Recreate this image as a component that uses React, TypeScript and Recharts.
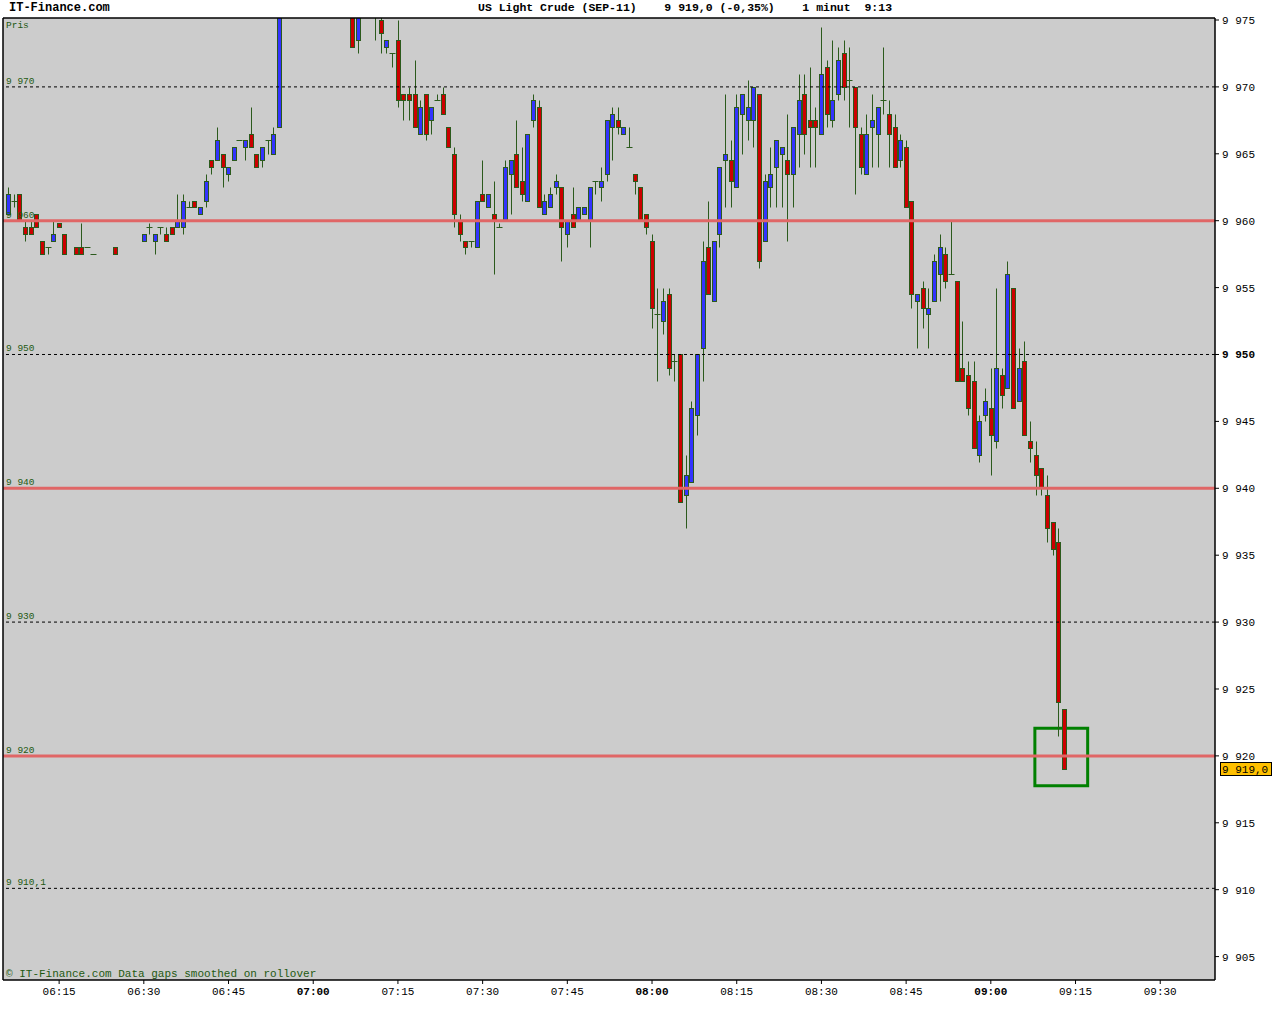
import React from "react";
import {
  ComposedChart,
  Bar,
  XAxis,
  YAxis,
  CartesianGrid,
  ReferenceLine,
  ReferenceArea,
} from "recharts";

// minute of day (06:06 = 366)
const TIME = [
  366, 367, 368, 369, 370, 371, 372, 373, 374, 375, 376, 378, 379, 380, 381, 385,
  390, 391, 392, 393, 394, 395, 396, 397, 398, 399, 400, 401, 402, 403, 404, 405,
  406, 407, 408, 409, 410, 411, 412, 413, 414, 427, 428, 431, 432, 433, 434, 435,
  436, 437, 438, 439, 440, 441, 442, 443, 444, 445, 446, 447, 448, 449, 450, 451,
  452, 453, 454, 455, 456, 457, 458, 459, 460, 461, 462, 463, 464, 465, 466, 467,
  468, 469, 470, 471, 472, 473, 474, 475, 476, 477, 478, 479, 480, 481, 482, 483,
  484, 485, 486, 487, 488, 489, 490, 491, 492, 493, 494, 495, 496, 497, 498, 499,
  500, 501, 502, 503, 504, 505, 506, 507, 508, 509, 510, 511, 512, 513, 514, 515,
  516, 517, 518, 519, 520, 521, 522, 523, 524, 525, 526, 527, 528, 529, 530, 531,
  532, 533, 534, 535, 536, 537, 538, 539, 540, 541, 542, 543, 544, 545, 546, 547,
  548, 549, 550, 551, 552, 553,
];
const OPEN = [
  9960.5, 9961.5, 9962.0, 9959.5, 9959.5, 9960.5, 9958.5, 9958.0, 9958.5, 9959.8, 9959.0, 9958.0, 9958.0, 9958.0, 9957.5, 9958.0,
  9958.5, 9959.5, 9958.5, 9959.5, 9959.0, 9959.5, 9959.5, 9959.5, 9961.0, 9961.5, 9960.5, 9961.5, 9964.5, 9964.5, 9965.0, 9963.5,
  9964.5, 9966.0, 9965.5, 9966.5, 9965.0, 9964.5, 9966.0, 9965.0, 9967.0, 9976.0, 9973.5, 9976.5, 9975.0, 9973.0, 9972.5, 9973.5,
  9969.5, 9969.5, 9969.5, 9966.5, 9969.5, 9967.5, 9969.0, 9969.5, 9967.0, 9965.0, 9960.0, 9958.5, 9958.5, 9958.0, 9962.0, 9961.0,
  9960.5, 9959.5, 9960.0, 9963.5, 9965.0, 9963.0, 9961.5, 9967.5, 9968.5, 9960.5, 9961.0, 9962.5, 9962.5, 9959.0, 9960.5, 9960.0,
  9960.5, 9960.0, 9963.0, 9962.5, 9963.5, 9967.0, 9967.5, 9966.5, 9965.5, 9963.5, 9962.5, 9960.5, 9958.5, 9953.0, 9952.5, 9954.5,
  9949.5, 9950.0, 9939.5, 9940.5, 9945.5, 9950.5, 9958.0, 9954.0, 9959.0, 9964.5, 9964.5, 9962.5, 9968.0, 9967.5, 9967.5, 9969.5,
  9958.5, 9962.5, 9964.0, 9965.0, 9964.5, 9963.5, 9966.5, 9969.5, 9967.5, 9967.5, 9966.5, 9971.5, 9967.5, 9969.5, 9972.5, 9970.5,
  9970.0, 9966.5, 9963.5, 9967.0, 9966.5, 9969.0, 9968.0, 9967.0, 9964.5, 9965.5, 9961.5, 9954.0, 9955.0, 9953.0, 9954.0, 9956.0,
  9957.5, 9956.0, 9955.5, 9949.0, 9948.5, 9948.0, 9942.5, 9945.5, 9946.0, 9943.5, 9948.5, 9947.5, 9955.0, 9946.5, 9949.5, 9943.5,
  9942.5, 9941.5, 9939.5, 9937.5, 9936.0, 9923.5,
];
const HIGH = [
  9962.5, 9962.0, 9962.0, 9960.0, 9960.0, 9960.5, 9958.5, 9958.0, 9960.0, 9959.8, 9959.0, 9958.0, 9959.8, 9958.0, 9957.5, 9958.0,
  9959.0, 9959.8, 9959.0, 9959.5, 9959.5, 9959.5, 9962.0, 9962.0, 9961.5, 9961.5, 9961.0, 9963.5, 9964.5, 9967.0, 9965.0, 9964.0,
  9965.5, 9966.0, 9966.0, 9968.5, 9965.0, 9965.5, 9966.0, 9967.0, 9977.0, 9976.5, 9976.5, 9977.0, 9975.5, 9973.5, 9972.5, 9975.0,
  9969.5, 9970.0, 9972.0, 9969.0, 9969.5, 9968.5, 9969.5, 9970.0, 9967.0, 9965.5, 9960.5, 9958.5, 9958.5, 9961.5, 9964.5, 9962.0,
  9963.0, 9959.8, 9964.5, 9964.5, 9967.5, 9965.5, 9966.5, 9969.5, 9969.0, 9962.0, 9962.5, 9963.5, 9962.5, 9960.0, 9962.5, 9961.0,
  9961.0, 9962.5, 9963.0, 9964.0, 9967.5, 9968.5, 9968.5, 9967.0, 9967.0, 9963.5, 9962.5, 9960.5, 9959.0, 9955.0, 9955.0, 9955.0,
  9950.0, 9950.0, 9942.5, 9946.5, 9950.0, 9958.5, 9961.5, 9958.5, 9964.0, 9969.5, 9966.0, 9969.5, 9969.5, 9970.5, 9970.0, 9969.5,
  9963.5, 9965.5, 9966.0, 9965.5, 9968.0, 9967.0, 9971.0, 9971.0, 9971.5, 9968.5, 9974.5, 9972.0, 9973.5, 9973.0, 9973.5, 9973.0,
  9970.0, 9967.0, 9968.0, 9969.5, 9968.5, 9973.0, 9969.0, 9968.0, 9966.5, 9966.0, 9961.5, 9954.5, 9955.5, 9955.0, 9957.5, 9959.0,
  9958.0, 9960.0, 9955.5, 9952.5, 9949.5, 9949.5, 9945.5, 9947.5, 9949.0, 9955.0, 9949.0, 9957.0, 9955.0, 9950.5, 9951.0, 9945.0,
  9943.5, 9941.5, 9941.0, 9937.5, 9937.0, 9923.5,
];
const LOW = [
  9960.5, 9961.0, 9960.0, 9958.5, 9959.0, 9959.5, 9957.5, 9957.5, 9958.5, 9959.5, 9957.5, 9957.5, 9957.5, 9958.0, 9957.5, 9957.5,
  9958.5, 9959.0, 9957.5, 9959.0, 9958.5, 9959.0, 9959.5, 9959.0, 9961.0, 9961.0, 9960.5, 9961.0, 9963.5, 9964.5, 9962.5, 9963.0,
  9964.5, 9966.0, 9964.5, 9965.5, 9964.0, 9964.0, 9965.0, 9965.0, 9967.0, 9973.0, 9972.5, 9973.5, 9972.5, 9972.5, 9971.5, 9968.5,
  9967.5, 9967.5, 9967.0, 9966.5, 9966.0, 9966.5, 9969.0, 9968.0, 9965.5, 9959.5, 9958.5, 9957.5, 9958.0, 9958.0, 9961.5, 9961.0,
  9956.0, 9959.5, 9960.0, 9960.5, 9962.5, 9961.5, 9961.5, 9967.0, 9961.0, 9960.5, 9961.0, 9962.0, 9957.0, 9958.0, 9959.5, 9960.0,
  9960.5, 9958.0, 9962.0, 9961.5, 9963.0, 9964.5, 9966.5, 9966.5, 9965.5, 9962.0, 9960.0, 9959.0, 9952.0, 9948.0, 9951.5, 9948.5,
  9948.0, 9939.0, 9937.0, 9940.5, 9944.0, 9948.0, 9954.5, 9954.0, 9958.0, 9961.0, 9961.0, 9962.5, 9965.0, 9966.0, 9965.5, 9956.5,
  9958.5, 9961.0, 9961.0, 9961.0, 9958.5, 9961.0, 9964.0, 9965.0, 9964.0, 9964.0, 9966.5, 9967.0, 9967.0, 9969.0, 9969.0, 9967.0,
  9962.0, 9963.5, 9963.5, 9964.0, 9964.0, 9968.0, 9964.0, 9964.0, 9964.0, 9961.0, 9953.5, 9950.5, 9952.0, 9950.5, 9954.0, 9954.0,
  9955.0, 9956.0, 9948.0, 9948.0, 9945.5, 9943.0, 9942.0, 9945.0, 9941.0, 9943.0, 9946.0, 9947.5, 9946.0, 9946.5, 9944.0, 9942.0,
  9939.5, 9939.5, 9936.0, 9935.0, 9921.5, 9919.0,
];
const CLOSE = [
  9962.0, 9961.5, 9960.0, 9959.0, 9959.0, 9959.5, 9957.5, 9958.0, 9959.0, 9959.5, 9957.5, 9957.5, 9957.5, 9958.0, 9957.5, 9957.5,
  9959.0, 9959.5, 9959.0, 9959.5, 9958.5, 9959.0, 9960.0, 9961.5, 9961.0, 9961.0, 9961.0, 9963.0, 9964.0, 9966.0, 9964.0, 9964.0,
  9965.5, 9966.0, 9966.0, 9965.5, 9964.0, 9965.5, 9966.0, 9966.5, 9976.5, 9973.0, 9976.0, 9976.0, 9974.0, 9973.5, 9972.5, 9969.0,
  9969.0, 9969.0, 9967.0, 9968.5, 9966.5, 9968.5, 9969.0, 9968.0, 9965.5, 9960.5, 9959.0, 9958.0, 9958.5, 9961.5, 9961.5, 9962.0,
  9960.0, 9959.5, 9964.0, 9964.5, 9962.5, 9962.0, 9966.5, 9969.0, 9961.0, 9961.5, 9962.0, 9963.0, 9959.5, 9960.0, 9959.5, 9961.0,
  9961.0, 9962.5, 9963.0, 9963.0, 9967.5, 9968.0, 9967.0, 9967.0, 9965.5, 9963.0, 9960.0, 9959.5, 9953.5, 9953.0, 9954.0, 9949.0,
  9949.5, 9939.0, 9941.0, 9946.0, 9950.0, 9957.0, 9954.5, 9958.5, 9964.0, 9965.0, 9963.0, 9968.5, 9969.5, 9968.5, 9970.0, 9957.0,
  9963.0, 9963.5, 9966.0, 9965.5, 9963.5, 9967.0, 9969.0, 9966.5, 9967.0, 9967.0, 9971.0, 9968.0, 9969.0, 9972.0, 9970.0, 9970.5,
  9967.0, 9964.0, 9966.5, 9967.5, 9968.5, 9969.0, 9966.5, 9964.0, 9966.0, 9961.0, 9954.5, 9954.5, 9953.5, 9953.5, 9957.0, 9958.0,
  9955.5, 9956.0, 9948.0, 9948.0, 9946.0, 9943.0, 9945.0, 9946.5, 9944.0, 9949.0, 9947.0, 9956.0, 9946.0, 9949.0, 9944.0, 9943.0,
  9941.0, 9940.0, 9937.0, 9935.5, 9924.0, 9919.0,
];

const X_TICKS = [375, 390, 405, 420, 435, 450, 465, 480, 495, 510, 525, 540, 555, 570];
const Y_TICKS = [9905, 9910, 9915, 9920, 9925, 9930, 9935, 9940, 9945, 9950, 9955, 9960, 9965, 9970, 9975];
const X_DOMAIN = [365.06, 579.7];
const Y_DOMAIN = [9903.25, 9975.15];
const DOTTED_LEVELS = [9970, 9950, 9930, 9910.1];
const DOTTED_LABELS = ["9 970", "9 950", "9 930", "9 910,1"];
const RED_LEVELS = [9960, 9940, 9920];
const RED_LABELS = ["9 960", "9 940", "9 920"];
const LAST_PRICE = 9919.0;
const LAST_LABEL = "9 919,0";
const MARK_X = [547.8, 557.15];
const MARK_Y = [9917.77, 9922.06];

const data = TIME.map((t, i) => ({
  t,
  o: OPEN[i],
  h: HIGH[i],
  l: LOW[i],
  c: CLOSE[i],
  range: [LOW[i], HIGH[i]],
}));

const MONO = '"Liberation Mono", "DejaVu Sans Mono", monospace';
const EDGE = "#2b5a1c";
const UP = "#3333ff";
const DOWN = "#cc0000";
const LABEL_GREEN = "#1f5a12";

const fmtTime = (m: number) => {
  const h = Math.floor(m / 60);
  const mm = m % 60;
  return `${String(h).padStart(2, "0")}:${String(mm).padStart(2, "0")}`;
};
const fmtPrice = (v: number) => {
  const s = String(Math.round(v));
  return s.slice(0, s.length - 3) + " " + s.slice(s.length - 3);
};

const Candle = (props: any) => {
  const { x, y, width, height, payload } = props;
  if (!payload || x == null || y == null) return null;
  const { o, h, l, c } = payload;
  const cx = Math.round(x + width / 2) + 0.5;
  const k = h > l ? height / (h - l) : 0;
  const yo = y + (h - o) * k;
  const yc = y + (h - c) * k;
  const top = Math.round(Math.min(yo, yc)) + 0.5;
  const bot = Math.round(Math.max(yo, yc)) + 0.5;
  const yh = Math.round(y) + 0.5;
  const yl = Math.round(y + height) + 0.5;
  const fill = c > o ? UP : DOWN;
  return (
    <g>
      {yl > yh && <line x1={cx} x2={cx} y1={yh} y2={yl} stroke={EDGE} strokeWidth={1} />}
      {bot - top >= 1 ? (
        <rect x={cx - 2} y={top} width={4} height={bot - top} fill={fill} stroke={EDGE} strokeWidth={1} />
      ) : (
        <line x1={cx - 3} x2={cx + 3} y1={top} y2={top} stroke={EDGE} strokeWidth={1} />
      )}
    </g>
  );
};

const XTick = (props: any) => {
  const { x, y, payload } = props;
  const m = payload.value;
  return (
    <text x={x} y={y + 9} textAnchor="middle" fontFamily={MONO} fontSize={11}
      fontWeight={m % 60 === 0 ? "bold" : "normal"} fill="#000">
      {fmtTime(m)}
    </text>
  );
};

const YTick = (props: any) => {
  const { x, y, payload } = props;
  const v = payload.value;
  return (
    <text x={x + 1} y={y + 4} textAnchor="start" fontFamily={MONO} fontSize={11}
      fontWeight={v === 9950 ? "bold" : "normal"} fill="#000">
      {fmtPrice(v)}
    </text>
  );
};

const PriceTag = (props: any) => {
  const vb = props.viewBox || {};
  const right = vb.x + vb.width;
  const cy = vb.y;
  return (
    <g>
      <rect x={right + 5.5} y={Math.round(cy) - 6.5} width={51} height={13} fill="#ffc000" stroke="#000" strokeWidth={1} />
      <text x={right + 7} y={Math.round(cy) + 4} fontFamily={MONO} fontSize={11} fill="#000">
        {LAST_LABEL}
      </text>
    </g>
  );
};

const levelLabel = (value: string) => ({
  value,
  position: "insideBottomLeft" as const,
  offset: 3,
  fill: LABEL_GREEN,
  fontSize: 9.5,
  fontFamily: MONO,
});

export default function App() {
  return (
    <div style={{ position: "absolute", left: 0, top: 0, width: 1280, height: 1024, background: "#fff" }}>
      <div style={{ position: "absolute", left: 9, top: 1, fontFamily: MONO, fontWeight: "bold", fontSize: 12, lineHeight: "14px", color: "#000" }}>
        IT-Finance.com
      </div>
      <div style={{ position: "absolute", left: 478, top: 1, fontFamily: MONO, fontWeight: "bold", fontSize: 11.5, lineHeight: "14px", color: "#000", whiteSpace: "pre" }}>
        {"US Light Crude (SEP-11)    9 919,0 (-0,35%)    1 minut  9:13"}
      </div>
      <ComposedChart
        width={1280}
        height={1024}
        data={data}
        margin={{ top: 18, left: 3, right: 0, bottom: 0 }}
        style={{ position: "absolute", left: 0, top: 0 }}
      >
        <CartesianGrid fill="#cccccc" stroke="none" horizontal={false} vertical={false} />
        <XAxis
          dataKey="t"
          type="number"
          domain={X_DOMAIN}
          allowDataOverflow
          ticks={X_TICKS}
          interval={0}
          height={44}
          tickSize={4}
          tick={<XTick />}
          axisLine={{ stroke: "#000", strokeWidth: 1.5 }}
          tickLine={{ stroke: "#000" }}
        />
        <YAxis
          orientation="right"
          type="number"
          domain={Y_DOMAIN}
          allowDataOverflow
          ticks={Y_TICKS}
          interval={0}
          width={65}
          tickSize={4}
          tick={<YTick />}
          axisLine={{ stroke: "#000", strokeWidth: 1.5 }}
          tickLine={{ stroke: "#000" }}
        />
        <Bar dataKey="range" barSize={5} shape={<Candle />} isAnimationActive={false} />
        {RED_LEVELS.map((v, i) => (
          <ReferenceLine key={"r" + v} y={v} stroke="#e06666" strokeWidth={3} label={levelLabel(RED_LABELS[i])} />
        ))}
        {DOTTED_LEVELS.map((v, i) => (
          <ReferenceLine key={"d" + v} y={v} stroke="#000" strokeWidth={1} strokeDasharray="3 3" label={levelLabel(DOTTED_LABELS[i])} />
        ))}
        <ReferenceLine
          y={Y_DOMAIN[1]}
          stroke="#000"
          strokeWidth={1.5}
          label={{ value: "Pris", position: "insideTopLeft", offset: 3, fill: LABEL_GREEN, fontSize: 9.5, fontFamily: MONO }}
        />
        <ReferenceLine
          y={Y_DOMAIN[0]}
          stroke="none"
          label={{ value: "© IT-Finance.com Data gaps smoothed on rollover", position: "insideBottomLeft", offset: 3, fill: LABEL_GREEN, fontSize: 11, fontFamily: MONO }}
        />
        <ReferenceLine x={X_DOMAIN[0]} stroke="#000" strokeWidth={1.5} />
        <ReferenceLine y={LAST_PRICE} stroke="none" label={(p: any) => <PriceTag {...p} />} />
        <ReferenceArea
          x1={MARK_X[0]}
          x2={MARK_X[1]}
          y1={MARK_Y[0]}
          y2={MARK_Y[1]}
          fill="none"
          fillOpacity={0}
          stroke="#008000"
          strokeWidth={3}
        />
      </ComposedChart>
    </div>
  );
}
